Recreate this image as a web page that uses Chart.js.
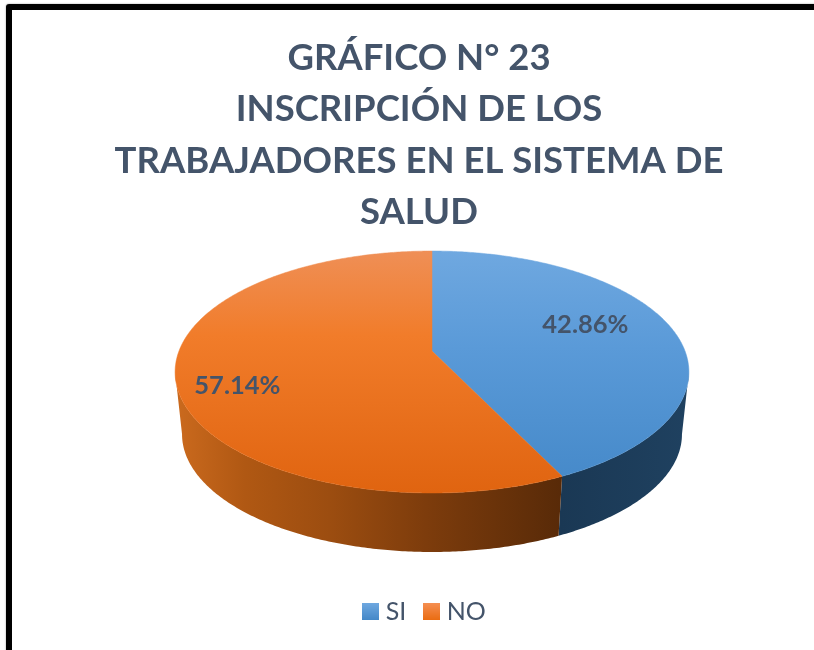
<!DOCTYPE html>
<html><head><meta charset="utf-8">
<script src="https://cdn.jsdelivr.net/npm/chart.js@4"></script>
<style>
html,body{margin:0;padding:0;background:#fff;overflow:hidden;width:814px;height:650px}
#frame{position:absolute;left:6px;top:4px;width:900px;height:800px;border:6px solid #000;border-radius:3px;box-sizing:border-box;box-shadow:0 0 2px #999}
canvas{position:absolute;left:0;top:0}
</style></head><body>
<div id="frame"></div>
<canvas id="c" width="814" height="650"></canvas>
<script>
const categories = ['SI', 'NO'];
const values = [42.86, 57.14];
const valueLabels = ['42.86%', '57.14%'];
const titleLines = ['GRÁFICO N° 23', 'INSCRIPCIÓN DE LOS', 'TRABAJADORES EN EL SISTEMA DE', 'SALUD'];

const INK = '#44546A';
const FONT = 'Lato, "Open Sans", sans-serif';
// perspective view of the pie plane (style only; angles come from the arc elements)
const view = {cx: 432, cy: 351, rx: 253, a: 56.4, c: -0.1736, vy: 2678, k: 0.973};
function project(u, v) {
  const d = 1 + view.c * v;
  return [view.cx + view.rx * u / d, (view.a * v + view.cy) / d];
}
function lower(p) {
  return [view.cx + view.k * (p[0] - view.cx), view.vy + view.k * (p[1] - view.vy)];
}
function rim(start, end) {
  const n = Math.max(2, Math.ceil((end - start) / 0.01)), pts = [];
  for (let i = 0; i <= n; i++) {
    const t = start + (end - start) * i / n;
    pts.push(project(Math.cos(t), Math.sin(t)));
  }
  return pts;
}
// angles of the rim's right-most and left-most points: the wall is visible between them
function silhouette() {
  let tR = 0, tL = 0, maxX = -Infinity, minX = Infinity;
  for (let t = -Math.PI / 2; t < 1.5 * Math.PI; t += 0.002) {
    const x = project(Math.cos(t), Math.sin(t))[0];
    if (x > maxX) { maxX = x; tR = t; }
    if (x < minX) { minX = x; tL = t; }
  }
  return [tR, tL];
}
function stops(g, list) { list.forEach(s => g.addColorStop(s[0], s[1])); return g; }
const faceStops = [
  [[0, '#6FA8E0'], [0.4, '#5A9AD8'], [1, '#4488C8']],
  [[0, '#EF8F56'], [0.35, '#F17C2A'], [1, '#E06410']]
];
const sideStops = [
  [[0, '#1A3854'], [1, '#1F4160']],
  [[0, '#CB6A1E'], [0.18, '#B05813'], [0.4, '#9C4D10'], [0.65, '#7D3C0C'], [1, '#582A08']]
];
function swatch(i) {
  const s = document.createElement('canvas');
  s.width = s.height = 17;
  const x = s.getContext('2d');
  const g = x.createLinearGradient(0, 0, 0, 17);
  stops(g, i === 0 ? [[0, '#6FA8E0'], [1, '#4488C8']] : [[0, '#F58F52'], [1, '#EA6C12']]);
  x.fillStyle = g; x.fillRect(0, 0, 17, 17);
  return s;
}
const labelAnchor = [{f: 0.62, dx: 4, dy: -10}, {f: 0.8, dx: 9, dy: 13}];

const pie3d = {
  id: 'pie3d',
  afterLayout(chart) {
    chart.titleBlock.left += 12; chart.titleBlock.right += 12;
    chart.legend.left += 20; chart.legend.right += 20;
  },
  beforeDatasetDraw(chart, args) {
    const ctx = chart.ctx, arcs = args.meta.data;
    const paths = arcs.map(a => rim(a.startAngle, a.endAngle));
    const [tR, tL] = silhouette();
    // side walls: only the front part of each slice
    arcs.forEach((a, i) => {
      const s = Math.max(a.startAngle, tR), e = Math.min(a.endAngle, tL);
      if (e <= s) return;
      const pts = rim(s, e);
      const g = ctx.createLinearGradient(i === 0 ? 560 : 175, 0, i === 0 ? 689 : 562, 0);
      stops(g, sideStops[i]);
      ctx.beginPath();
      pts.forEach((p, j) => j ? ctx.lineTo(p[0], p[1]) : ctx.moveTo(p[0], p[1]));
      pts.slice().reverse().forEach(p => { const q = lower(p); ctx.lineTo(q[0], q[1]); });
      ctx.closePath();
      ctx.fillStyle = g; ctx.fill();
    });
    // top faces
    arcs.forEach((a, i) => {
      const g = ctx.createLinearGradient(0, 251, 0, 493);
      stops(g, faceStops[i]);
      const apex = project(0, 0);
      ctx.beginPath();
      ctx.moveTo(apex[0], apex[1]);
      paths[i].forEach(p => ctx.lineTo(p[0], p[1]));
      ctx.closePath();
      ctx.fillStyle = g; ctx.fill();
      ctx.strokeStyle = g; ctx.lineWidth = 0.5; ctx.stroke();
    });
    // value labels
    ctx.font = 'bold 25.5px ' + FONT;
    ctx.fillStyle = INK; ctx.textAlign = 'center'; ctx.textBaseline = 'middle';
    arcs.forEach((a, i) => {
      const mid = (a.startAngle + a.endAngle) / 2, an = labelAnchor[i];
      const p = project(an.f * Math.cos(mid), an.f * Math.sin(mid));
      ctx.fillText(valueLabels[i], p[0] + an.dx, p[1] + an.dy);
    });
    return false;
  }
};

new Chart(document.getElementById('c'), {
  type: 'pie',
  data: {labels: categories, datasets: [{data: values, backgroundColor: ['#5B9BD5', '#ED7D31'], borderWidth: 0}]},
  options: {
    responsive: false, animation: false,
    layout: {padding: {bottom: 16}},
    plugins: {
      tooltip: {enabled: false},
      title: {display: true, text: titleLines, color: INK, align: 'center',
        font: {family: FONT, size: 36.5, weight: 'bold', lineHeight: 1.414}, padding: {top: 32, bottom: 10}},
      legend: {position: 'bottom',
        labels: {color: INK, font: {family: FONT, size: 25}, usePointStyle: true, pointStyleWidth: 5, padding: 23,
          generateLabels: () => categories.map((t, i) => ({text: t, fontColor: INK, pointStyle: swatch(i), hidden: false, index: i, lineWidth: 0, strokeStyle: 'transparent'}))}}
    }
  },
  plugins: [pie3d]
});
</script>
</body></html>
